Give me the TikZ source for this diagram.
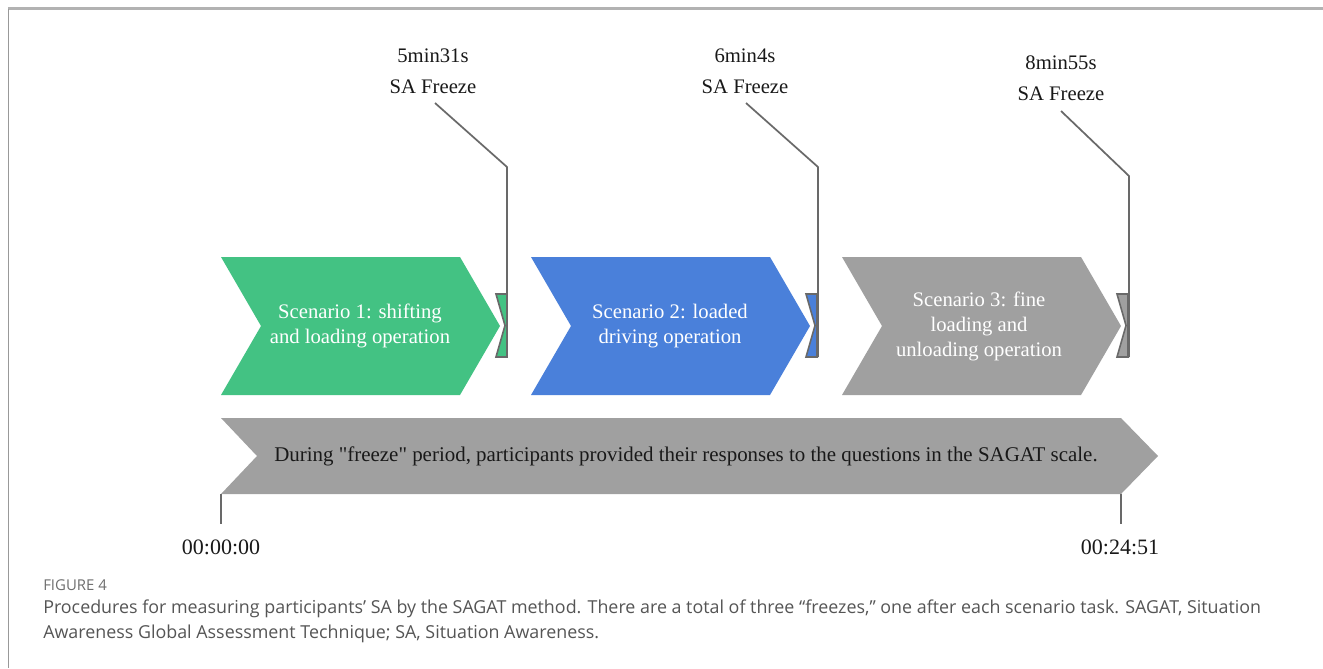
\documentclass[tikz,border=0pt]{standalone}
\usepackage{fontspec}
\setmainfont{Liberation Serif}
\newfontfamily\capfont{Open Sans}
\definecolor{scgreen}{RGB}{67,194,131}
\definecolor{scblue}{RGB}{74,128,218}
\definecolor{scgray}{RGB}{160,160,160}
\definecolor{leadgray}{RGB}{105,105,105}
\definecolor{captxt}{RGB}{85,85,85}
\definecolor{capfig}{RGB}{110,110,110}
\newcommand\mychevron[2]{%
  \fill[#2] (#1,257) -- ++(239,0) -- ++(40,69) -- ++(-40,69) -- ++(-239,0) -- ++(40,-69) -- cycle;
  \filldraw[fill=#2, draw=leadgray, line width=1.2] (#1+275,294) -- (#1+286,294) -- (#1+286,357) -- (#1+275,357) -- (#1+284,325.5) -- cycle;}
\begin{document}
\begin{tikzpicture}[x=0.75pt,y=-0.75pt,
  lbl/.style={font=\fontsize{15.5}{23}\selectfont, text=black!90, align=center, inner sep=0pt},
  sctext/.style={font=\fontsize{15.5}{18.75}\selectfont, text=white, align=center, inner sep=0pt},
  leader/.style={draw=leadgray, line width=1.3},
  captext/.style={font=\capfont\fontsize{13.4}{18.75}\selectfont, text=captxt, anchor=west, inner sep=0pt}]
\useasboundingbox (0,0) rectangle (1323,668);
\fill[white] (0,0) rectangle (1323,668);
% page frame
\draw[black!30, line width=1.6] (8,8.5) -- (1323,8.5);
\draw[black!40, line width=0.9] (8.5,8.5) -- (8.5,668);
% scenarios
\mychevron{221}{scgreen}
\mychevron{531}{scblue}
\mychevron{842}{scgray}
\node[sctext] (s1) at (360,326) {Scenario 1: shifting\\and loading operation};
\node[sctext] (s2) at (670,326) {Scenario 2: loaded\\driving operation};
\node[sctext] (s3) at (979,326) {Scenario 3: fine\\loading and\\unloading operation};
% freeze labels
\node[lbl] (f1) at (433,71) {5min31s\\SA Freeze};
\node[lbl] (f2) at (745,71) {6min4s\\SA Freeze};
\node[lbl] (f3) at (1061,78) {8min55s\\SA Freeze};
\coordinate (f1a) at (435,103); \coordinate (f1b) at (507,167); \coordinate (f1c) at (507,357);
\coordinate (f2a) at (746,103); \coordinate (f2b) at (818,167); \coordinate (f2c) at (818,357);
\coordinate (f3a) at (1061,111); \coordinate (f3b) at (1129,176); \coordinate (f3c) at (1129,357);
\draw[leader] (f1a) -- (f1b) -- (f1c);
\draw[leader] (f2a) -- (f2b) -- (f2c);
\draw[leader] (f3a) -- (f3b) -- (f3c);
% bottom arrow
\fill[scgray] (221,418) -- (1121,418) -- (1158,456) -- (1121,494) -- (221,494) -- (257,456) -- cycle;
\node[lbl, font=\fontsize{15.7}{18}\selectfont] (fz) at (686,456) {During \textquotedbl freeze\textquotedbl{} period, participants provided their responses to the questions in the SAGAT scale.};
% time ticks
\coordinate (t0) at (221,494); \coordinate (t1) at (1121,494);
\node[lbl, font=\fontsize{16.5}{20}\selectfont] (l0) at (221,547) {00:00:00};
\node[lbl, font=\fontsize{16.5}{20}\selectfont] (l1) at (1120,547) {00:24:51};
\draw[leader] (t0) -- (221,524);
\draw[leader] (t1) -- (1121,524);
% caption
\node[captext, font=\capfont\fontsize{11.2}{12}\selectfont, text=capfig] (cf) at (43,585.5) {FIGURE 4};
\node[captext] (c1) at (43,608.5) {Procedures for measuring participants’ SA by the SAGAT method. There are a total of three “freezes,” one after each scenario task. SAGAT, Situation};
\node[captext] (c2) at (43,633.5) {Awareness Global Assessment Technique; SA, Situation Awareness.};
\end{tikzpicture}
\end{document}
